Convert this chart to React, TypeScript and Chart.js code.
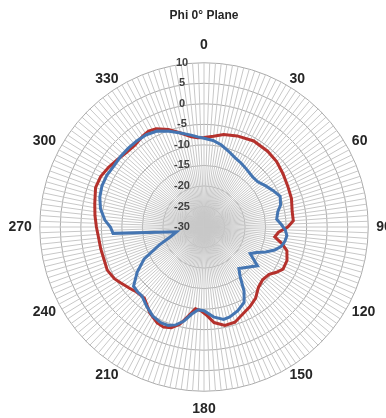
import React, { useEffect, useRef } from "react";
import { Chart, registerables } from "chart.js";

Chart.register(...registerables);

const TITLE = "Phi 0° Plane";
const ANGLE_STEP = 2;
const ANGLES: number[] = Array.from({ length: 360 / ANGLE_STEP }, (_, i) => i * ANGLE_STEP);
const LABEL_EVERY = 30;

const R_MIN = -30;
const R_MAX = 10;
const R_STEP = 5;

// Red trace: angle (deg) -> gain (dB)
const redAngles = [0, 6, 12, 20, 30, 40, 48, 56, 64, 72, 80, 86, 90, 94, 98, 102, 106, 112, 118, 122, 126, 132, 138, 144, 150, 156, 162, 168, 174, 178, 182, 186, 190, 194, 198, 202, 206, 212, 216, 220, 226, 230, 236, 240, 246, 252, 258, 264, 270, 276, 282, 290, 296, 302, 308, 314, 320, 326, 330, 334, 340, 346, 352, 356];
const redValues = [-8.2, -7.8, -7.0, -6.4, -5.8, -5.9, -6.2, -6.8, -7.3, -7.6, -8.2, -8.2, -9.6, -11.8, -12.6, -10.6, -9.0, -8.2, -8.2, -9.2, -10.4, -10.8, -10.2, -8.6, -7.6, -6.8, -5.6, -5.5, -6.6, -8.4, -9.6, -10.0, -8.0, -5.6, -4.2, -3.7, -4.0, -5.2, -6.4, -7.4, -7.2, -6.6, -5.6, -4.8, -4.2, -4.4, -4.3, -4.2, -3.8, -3.3, -2.8, -1.9, -2.0, -2.6, -3.3, -3.8, -3.9, -3.3, -3.0, -3.4, -4.7, -6.4, -7.8, -8.2];

// Blue trace: angle (deg) -> gain (dB)
const blueAngles = [0, 6, 12, 18, 24, 30, 36, 44, 50, 56, 62, 68, 74, 78, 84, 88, 92, 96, 100, 104, 108, 112, 116, 120, 126, 140, 144, 148, 152, 158, 164, 168, 174, 180, 184, 188, 192, 196, 200, 204, 210, 216, 222, 226, 230, 236, 242, 248, 254, 260, 266, 270, 274, 280, 286, 292, 298, 304, 310, 316, 322, 328, 334, 340, 346, 352, 356];
const blueValues = [-8.4, -8.8, -9.6, -10.6, -11.5, -12.0, -12.5, -13.0, -12.9, -12.0, -11.0, -10.0, -10.6, -11.6, -12.2, -11.2, -10.2, -9.7, -10.0, -10.6, -11.9, -13.8, -15.8, -17.0, -13.9, -16.8, -15.0, -11.6, -9.2, -8.0, -7.2, -7.0, -8.0, -9.6, -9.8, -8.6, -6.6, -5.2, -4.5, -4.4, -5.0, -6.2, -7.4, -7.4, -7.6, -10.4, -13.5, -18.2, -21.6, -23.2, -7.8, -7.2, -5.8, -4.4, -3.6, -3.2, -3.2, -3.5, -3.4, -3.4, -3.4, -3.5, -4.0, -5.2, -6.4, -7.4, -8.0];

const RED = "#b5312c";
const BLUE = "#4475b2";
const FONT = "'Liberation Sans', Arial, sans-serif";

function toSeries(angles: number[], values: number[]): (number | null)[] {
  const out: (number | null)[] = ANGLES.map(() => null);
  angles.forEach((a, i) => {
    const idx = ANGLES.indexOf(a);
    if (idx >= 0) out[idx] = values[i];
  });
  return out;
}

export default function App() {
  const ref = useRef<HTMLCanvasElement | null>(null);

  useEffect(() => {
    document.body.style.margin = "0";
    const canvas = ref.current;
    if (!canvas) return;
    const chart = new Chart(canvas, {
      type: "radar",
      data: {
        labels: ANGLES.map((a) => String(a)),
        datasets: [
          {
            label: "Blue",
            data: toSeries(blueAngles, blueValues),
            borderColor: BLUE,
            backgroundColor: "transparent",
            borderWidth: 3,
            pointRadius: 0,
            pointHoverRadius: 0,
            fill: false,
            spanGaps: true,
            tension: 0,
          },
          {
            label: "Red",
            data: toSeries(redAngles, redValues),
            borderColor: RED,
            backgroundColor: "transparent",
            borderWidth: 3,
            pointRadius: 0,
            pointHoverRadius: 0,
            fill: false,
            spanGaps: true,
            tension: 0,
          },
        ],
      },
      options: {
        responsive: false,
        animation: false,
        events: [],
        layout: { padding: { bottom: 9 } },
        plugins: {
          legend: { display: false },
          tooltip: { enabled: false },
          title: {
            display: true,
            text: TITLE,
            color: "#262626",
            font: { family: FONT, size: 12, weight: "bold", lineHeight: 1.2 },
            padding: { top: 8, bottom: 22.85 },
          },
        },
        scales: {
          r: {
            min: R_MIN,
            max: R_MAX,
            beginAtZero: false,
            ticks: {
              stepSize: R_STEP,
              showLabelBackdrop: false,
              backdropPadding: 0,
              color: "#404040",
              font: { family: FONT, size: 11, weight: "bold" },
              callback: (v: any) => String(v) + "\u2003\u2003\u2003\u2003",
            },
            grid: { color: "#ababab", lineWidth: 1, circular: true },
            angleLines: { color: "#c8c8c8", lineWidth: 1 },
            pointLabels: {
              color: "#262626",
              font: { family: FONT, size: 14, weight: "bold", lineHeight: 0 },
              padding: (ctx: any) => {
                const a = ANGLES[ctx.index];
                if (a === 0 || a === 180) return 12;
                if (a === 90 || a === 270) return 2.5;
                return 1;
              },
              callback: (label: string, index: number) =>
                ANGLES[index] % LABEL_EVERY === 0 ? label : "",
            },
          },
        },
      },
    });
    return () => chart.destroy();
  }, []);

  return (
    <div style={{ position: "fixed", left: 0, top: 0, width: 386, height: 418, overflow: "hidden", background: "#fff" }}>
      <canvas ref={ref} width={420} height={418} style={{ display: "block", marginLeft: -6 }} />
    </div>
  );
}
